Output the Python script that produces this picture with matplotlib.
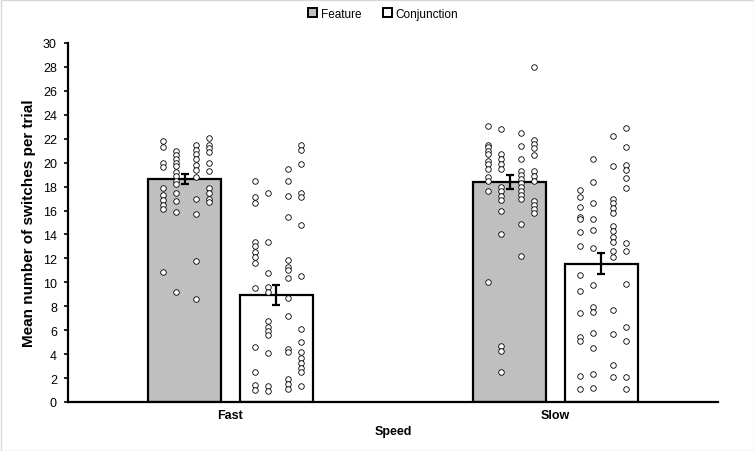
import matplotlib
matplotlib.use("Agg")
import matplotlib.pyplot as plt
import numpy as np
from matplotlib.patches import Rectangle

plt.rcParams['font.family'] = ['Liberation Sans', 'DejaVu Sans']

speeds = ["Fast", "Slow"]
conditions = ["Feature", "Conjunction"]
bar_means = {"Feature": [18.63, 18.38], "Conjunction": [8.96, 11.55]}
bar_sem = {"Feature": [0.42, 0.58], "Conjunction": [0.83, 0.86]}

# individual participant values, in four strips per bar
fast_feature = [
    [21.8, 21.3, 20.0, 19.6, 17.9, 17.3, 16.9, 16.5, 16.1, 10.9],
    [21.0, 20.6, 20.3, 20.0, 19.7, 19.2, 18.9, 18.5, 18.2, 17.5, 16.8, 15.9, 9.2],
    [21.5, 21.1, 20.7, 20.3, 19.8, 19.4, 18.8, 17.0, 15.7, 11.8, 8.6],
    [22.1, 21.5, 21.2, 20.9, 20.0, 19.3, 17.9, 17.5, 17.0, 16.7],
]
fast_conjunction = [
    [18.5, 17.1, 16.6, 13.4, 13.0, 12.5, 12.1, 11.6, 9.5, 4.6, 2.5, 1.4, 1.0],
    [17.5, 13.4, 10.8, 9.6, 9.2, 6.8, 6.3, 5.9, 5.6, 4.1, 1.3, 0.9],
    [19.5, 18.5, 17.2, 15.5, 11.9, 11.3, 11.0, 10.4, 8.7, 7.2, 4.4, 4.2, 1.9, 1.5, 1.1],
    [21.5, 21.1, 19.9, 17.5, 17.1, 14.8, 10.5, 6.1, 5.0, 4.2, 3.7, 3.3, 2.8, 2.5, 1.3],
]
slow_feature = [
    [23.1, 21.5, 21.3, 21.0, 20.7, 20.1, 19.9, 19.5, 18.8, 18.5, 17.6, 10.0],
    [22.8, 20.7, 20.3, 19.9, 19.5, 18.0, 17.6, 17.2, 16.9, 16.0, 14.0, 4.7, 4.3, 2.5],
    [22.5, 21.4, 20.3, 19.3, 19.0, 18.6, 18.3, 18.0, 17.6, 17.3, 17.0, 14.9, 12.2],
    [28.0, 21.9, 21.6, 21.2, 20.6, 19.3, 18.9, 18.5, 16.8, 16.5, 16.1, 15.8],
]
slow_conjunction = [
    [17.7, 17.1, 16.3, 15.5, 15.3, 14.2, 13.0, 10.6, 9.3, 7.4, 5.4, 5.1, 2.2, 1.1],
    [20.3, 18.4, 16.6, 15.3, 14.4, 12.9, 9.8, 7.9, 7.5, 5.8, 4.5, 2.3, 1.2],
    [22.2, 19.7, 17.0, 16.6, 16.2, 15.8, 14.7, 14.3, 13.8, 13.4, 12.6, 12.1, 7.7, 5.7, 3.1, 2.1],
    [22.9, 21.3, 19.8, 19.4, 18.7, 17.9, 13.3, 12.6, 9.9, 6.3, 5.1, 2.1, 1.1],
]
points = {
    ("Fast", "Feature"): fast_feature,
    ("Fast", "Conjunction"): fast_conjunction,
    ("Slow", "Feature"): slow_feature,
    ("Slow", "Conjunction"): slow_conjunction,
}

colors = {"Feature": "#bfbfbf", "Conjunction": "#ffffff"}

fig = plt.figure(figsize=(7.54, 4.52), dpi=100)
ax = fig.add_axes([68 / 754, 1 - 403 / 452, 650 / 754, 359 / 452])

bar_w = 0.225
offsets = {"Feature": -0.1415, "Conjunction": 0.1415}
strip_off = [-0.067, -0.027, 0.035, 0.075]
x = np.arange(len(speeds))

for cond in conditions:
    xs = x + offsets[cond]
    ax.bar(xs, bar_means[cond], width=bar_w, color=colors[cond],
           edgecolor="black", linewidth=1.6, zorder=2)
    for i, sp in enumerate(speeds):
        for k, strip in enumerate(points[(sp, cond)]):
            ax.scatter(np.full(len(strip), xs[i] + strip_off[k]), strip, s=16,
                       facecolor="white", edgecolor="black", linewidth=0.6, zorder=3)
    ax.errorbar(xs, bar_means[cond], yerr=bar_sem[cond], fmt="none",
                ecolor="black", elinewidth=1.6, capsize=3, capthick=1.6, zorder=4)

ax.set_xlim(-0.5, 1.5)
ax.set_ylim(0, 30)
ax.set_yticks(np.arange(0, 31, 2))
ax.set_xticks(x)
ax.set_xticklabels(speeds, fontweight="bold", fontsize=9)
ax.tick_params(axis="x", length=0, pad=5)
ax.tick_params(axis="y", length=3, width=1.2, labelsize=9, pad=5)
for s in ["top", "right"]:
    ax.spines[s].set_visible(False)
for s in ["left", "bottom"]:
    ax.spines[s].set_linewidth(1.6)
ax.set_ylabel("Mean number of switches per trial", fontweight="bold", fontsize=11, labelpad=5)
ax.set_xlabel("Speed", fontweight="bold", fontsize=9, labelpad=3)

handles = [Rectangle((0, 0), 1, 1, facecolor=colors[c], edgecolor="black", linewidth=1.4)
           for c in conditions]
fig.legend(handles, conditions, loc="center", bbox_to_anchor=(383 / 754, 1 - 15 / 452),
           ncol=2, frameon=False, fontsize=8.5, handlelength=0.8, handleheight=0.8,
           handletextpad=0.3, columnspacing=1.8)

fig.patches.append(Rectangle((0.5 / 754, 0.5 / 452), 753 / 754, 451 / 452,
                             transform=fig.transFigure, fill=False,
                             edgecolor="#d9d9d9", linewidth=1))

fig.savefig("out.png", dpi=100)
